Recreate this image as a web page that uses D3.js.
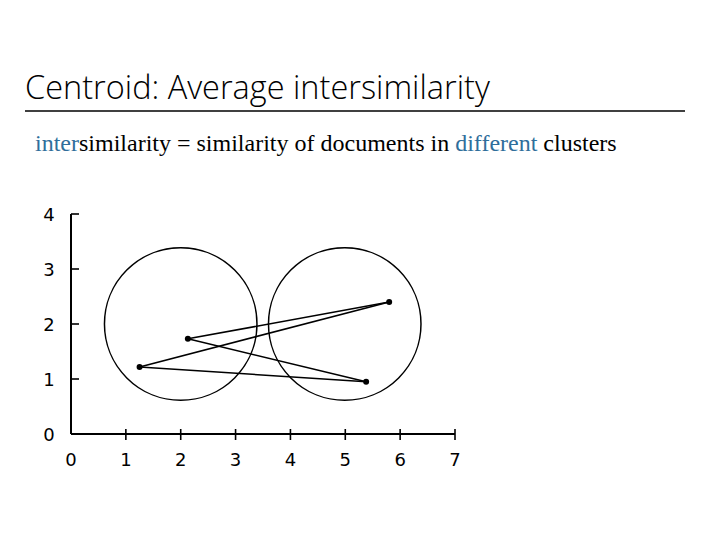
<!DOCTYPE html><html><head><script src="https://cdn.jsdelivr.net/npm/d3@7"></script>
<style>body{margin:0;background:#fff}</style></head><body><svg id="c" width="720" height="540"></svg>
<script>
const xTicks=[0,1,2,3,4,5,6,7];
const yTicks=[0,1,2,3,4];
const circles=[{x:2.0,y:2.0,r:1.39},{x:4.99,y:2.0,r:1.39}];
const points=[{x:1.25,y:1.22},{x:2.13,y:1.73},{x:5.8,y:2.4},{x:5.38,y:0.95}];
const links=[[1,2],[0,2],[0,3],[1,3]];
const svg=d3.select("#c");
svg.append("text").attr("x",25).attr("y",99).attr("font-family","Open Sans").attr("font-weight",300).attr("font-size",32.5).attr("fill","#000").text("Centroid: Average intersimilarity");
svg.append("line").attr("x1",25).attr("x2",685).attr("y1",111).attr("y2",111).attr("stroke","#000").attr("stroke-width",1.5);
const st=svg.append("text").attr("x",35).attr("y",151).attr("font-family","Liberation Serif").attr("font-size",24);
const blue="#2f6e9b";
[["inter",blue],["similarity = similarity of documents in ","#000"],["different",blue],[" clusters","#000"]].forEach(([t,c])=>st.append("tspan").attr("fill",c).text(t));
const x=d3.scaleLinear().domain([0,7]).range([71,455]);
const y=d3.scaleLinear().domain([0,4]).range([434,214]);
const g=svg.append("g").attr("font-family","DejaVu Sans").attr("font-size",18);
g.append("line").attr("x1",x(0)).attr("x2",x(7)).attr("y1",y(0)).attr("y2",y(0)).attr("stroke","#000").attr("stroke-width",2);
g.append("line").attr("x1",x(0)).attr("x2",x(0)).attr("y1",y(0)).attr("y2",y(4)).attr("stroke","#000").attr("stroke-width",2);
xTicks.forEach(t=>{if(t>0)g.append("line").attr("x1",x(t)).attr("x2",x(t)).attr("y1",y(0)-5).attr("y2",y(0)+6).attr("stroke","#000").attr("stroke-width",1.6);
g.append("text").attr("x",x(t)).attr("y",466).attr("text-anchor","middle").text(t);});
yTicks.forEach(t=>{if(t>0)g.append("line").attr("x1",x(0)).attr("x2",x(0)+8).attr("y1",y(t)).attr("y2",y(t)).attr("stroke","#000").attr("stroke-width",1.6);
g.append("text").attr("x",49).attr("y",y(t)+7).attr("text-anchor","middle").text(t);});
const k=x(1)-x(0);
g.selectAll(".ci").data(circles).enter().append("circle").attr("cx",d=>x(d.x)).attr("cy",d=>y(d.y)).attr("r",d=>d.r*k).attr("fill","none").attr("stroke","#000").attr("stroke-width",1.5);
g.selectAll(".ln").data(links).enter().append("line").attr("x1",d=>x(points[d[0]].x)).attr("y1",d=>y(points[d[0]].y)).attr("x2",d=>x(points[d[1]].x)).attr("y2",d=>y(points[d[1]].y)).attr("stroke","#000").attr("stroke-width",1.5);
g.selectAll(".pt").data(points).enter().append("circle").attr("cx",d=>x(d.x)).attr("cy",d=>y(d.y)).attr("r",3).attr("fill","#000");
</script></body></html>
